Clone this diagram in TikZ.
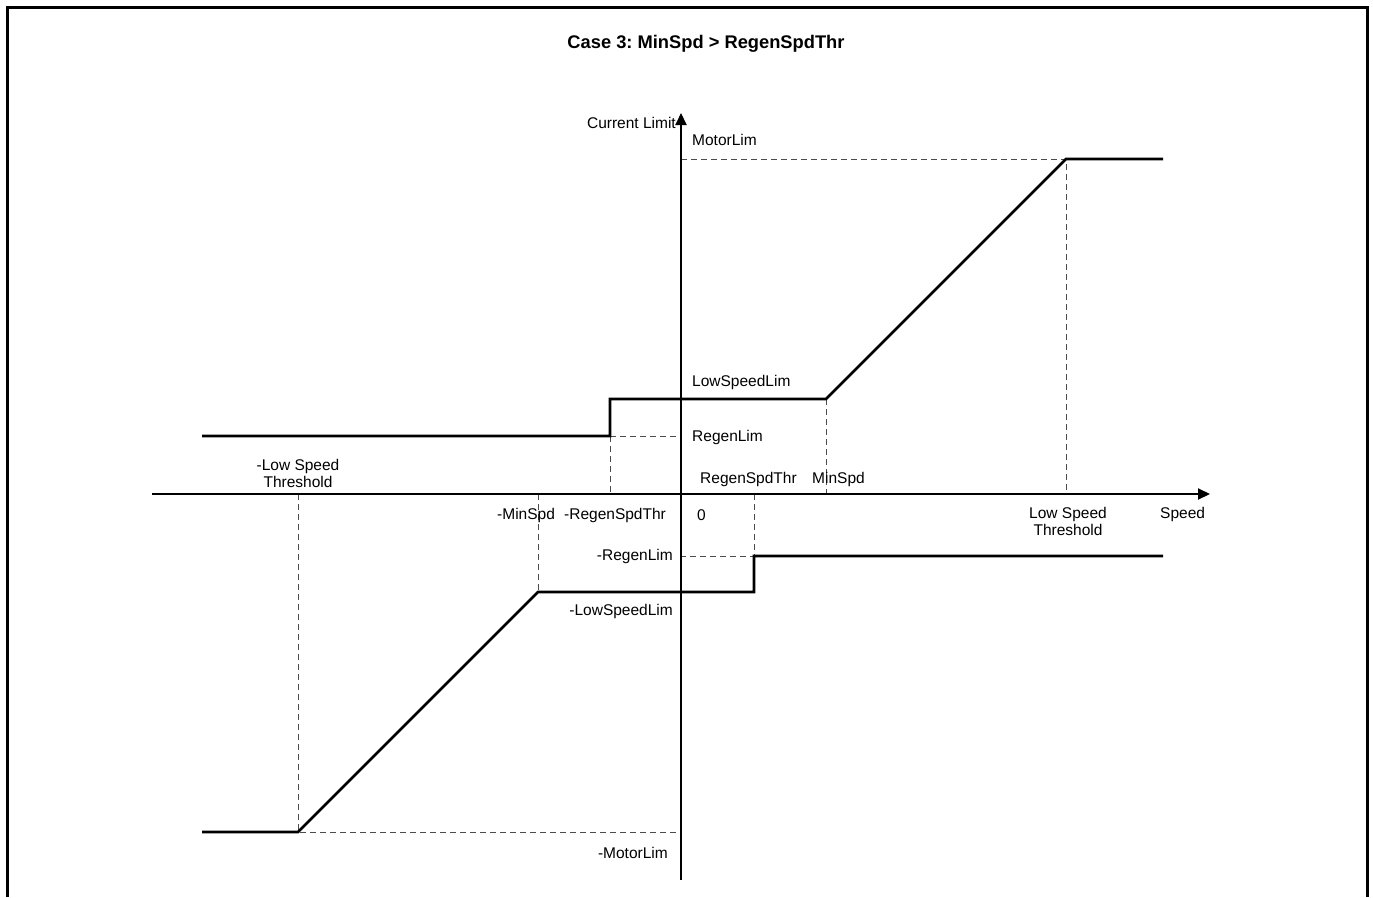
\documentclass[tikz,border=0pt]{standalone}
\usepackage{fontspec}
\setmainfont{Liberation Sans}
\usetikzlibrary{arrows.meta}
\frenchspacing
\begin{document}
\begin{tikzpicture}[x=1pt,y=-1pt,
  lbl/.style={inner sep=0pt,font=\fontsize{15.5}{17}\selectfont},
  axis/.style={line width=2pt,-{Triangle[length=12pt,width=11pt]}},
  curve/.style={line width=2.8pt,line join=miter},
  guide/.style={line width=0.9pt,draw=black!70,dash pattern=on 6pt off 4pt},
  frame/.style={line width=3pt}]
\useasboundingbox (0,0) rectangle (1373,897);
% outer frame, open at the bottom
\draw[frame] (7,897) -- (7,7) -- (1367,7) -- (1367,897);
% title
\node[lbl,font=\bfseries\fontsize{18.3}{20}\selectfont] (title) at (706,44) {Case 3: MinSpd > RegenSpdThr};

% reference points
\coordinate (O) at (681,494);
\coordinate (xs) at (152,494);
\coordinate (xe) at (1210,494);
\coordinate (ys) at (681,880);
\coordinate (ye) at (681,113);
% upper limit curve
\coordinate (u0) at (202,436);
\coordinate (u1) at (610,436);
\coordinate (u2) at (610,399);
\coordinate (u3) at (826,399);
\coordinate (u4) at (1066,159);
\coordinate (u5) at (1163,159);
% lower limit curve
\coordinate (l0) at (202,832);
\coordinate (l1) at (298,832);
\coordinate (l2) at (538,592);
\coordinate (l3) at (754,592);
\coordinate (l4) at (754,556);
\coordinate (l5) at (1163,556);
% projections on the axes
\coordinate (yMot) at (681,159);
\coordinate (yReg) at (681,436);
\coordinate (ynReg) at (681,556);
\coordinate (ynMot) at (681,832);
\coordinate (xLST) at (1066,494);
\coordinate (xMin) at (826,494);
\coordinate (xnReg) at (610,494);
\coordinate (xnLST) at (298,494);
\coordinate (xnMin) at (538,494);
\coordinate (xReg) at (754,494);

% guide lines
\draw[guide] (yMot) -- (u4) -- (xLST);
\draw[guide] (u3) -- (xMin);
\draw[guide] (u1) -- (yReg);
\draw[guide] (u1) -- (xnReg);
\draw[guide] (xnLST) -- (l1) -- (ynMot);
\draw[guide] (xnMin) -- (l2);
\draw[guide] (xReg) -- (l4) -- (ynReg);

% axes
\draw[axis] (xs) -- (xe);
\draw[axis] (ys) -- (ye);

% limit curves
\draw[curve] (u0) -- (u1) -- (u2) -- (u3) -- (u4) -- (u5);
\draw[curve] (l0) -- (l1) -- (l2) -- (l3) -- (l4) -- (l5);

% labels
\node[lbl,anchor=east] (tCur) at (676,123) {Current Limit};
\node[lbl,anchor=west] (tMot) at (692,140) {MotorLim};
\node[lbl,anchor=west] (tLSL) at (692,382) {LowSpeedLim};
\node[lbl,anchor=west] (tReg) at (692,437) {RegenLim};
\node[lbl,anchor=west] (tRST) at (700,479) {RegenSpdThr};
\node[lbl,anchor=west] (tMin) at (812,479) {MinSpd};
\node[lbl,anchor=west] (tnRST) at (564,515) {-RegenSpdThr};
\node[lbl,anchor=west] (tZero) at (697,515) {0};
\node[lbl,anchor=west] (tnMin) at (497,515) {-MinSpd};
\node[lbl,align=center] (tnLST) at (298,473) {-Low Speed\\Threshold};
\node[lbl,align=center] (tLST) at (1068,521) {Low Speed\\Threshold};
\node[lbl,anchor=west] (tSpd) at (1160,514) {Speed};
\node[lbl,anchor=east] (tnReg) at (673,556) {-RegenLim};
\node[lbl,anchor=east] (tnLSL) at (673,611) {-LowSpeedLim};
\node[lbl,anchor=east] (tnMot) at (668,853) {-MotorLim};
\end{tikzpicture}
\end{document}
